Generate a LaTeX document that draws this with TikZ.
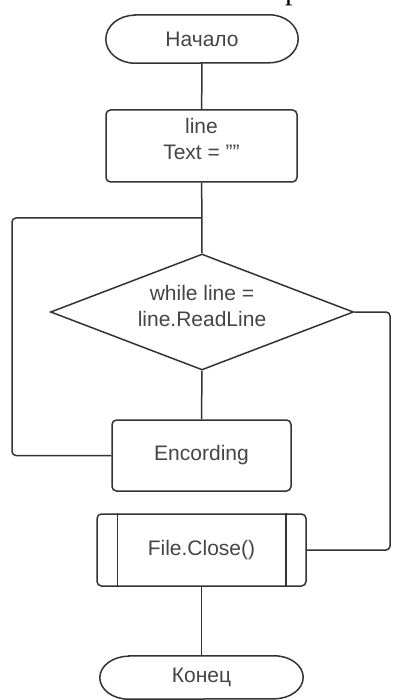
\documentclass[tikz,border=0pt]{standalone}
\usepackage{fontspec}
\setmainfont{Liberation Sans}
\newfontfamily\serifx{Liberation Serif}
\usetikzlibrary{shapes.geometric}
\definecolor{ln}{HTML}{333333}
\definecolor{tx}{HTML}{454545}
\definecolor{brn}{HTML}{4A2C2C}
\newcommand\termoutline[3]{% node name, x radius, y radius
  \draw[ln, line width=1.5pt] ([xshift=#2]#1.north west) -- ([xshift=-#2]#1.north east)
    arc[start angle=90, end angle=-90, x radius=#2, y radius=#3]
    -- ([xshift=#2]#1.south west)
    arc[start angle=270, end angle=90, x radius=#2, y radius=#3] -- cycle;}
\begin{document}
\begin{tikzpicture}[x=1pt,y=-1pt,
  txt/.style={font=\fontsize{21}{26}\selectfont, text=tx, align=center},
  term/.style={txt, rectangle, inner sep=0pt},
  proc/.style={txt, draw=ln, line width=1.5pt, rectangle, rounded corners=4.5pt, inner sep=0pt},
  dec/.style={txt, draw=ln, line width=1.5pt, diamond, aspect=2.6, inner sep=0pt},
  conn/.style={draw=ln, line width=1.5pt, rounded corners=4pt}]
\useasboundingbox[fill=white] (0,0) rectangle (392,700);
\node[font=\serifx\fontsize{30}{30}\selectfont, text=black, inner sep=0pt, anchor=base west] (frag) at (285,-0.5) {р};
\node[term, minimum width=192pt, minimum height=48pt] (start) at (202,39) {Начало};
\termoutline{start}{29pt}{24pt}
\node[proc, minimum width=191pt, minimum height=72pt] (init) at (201.5,146) {line\\Text = ""\\[-11pt]};
\node[dec, minimum width=303pt, minimum height=116pt] (loop) at (202,312) {while line =\\line.ReadLine\\[-13pt]};
\node[proc, minimum width=179pt, minimum height=71pt] (enc) at (201.5,455.5) {Encording};
\node[proc, minimum width=209pt, minimum height=72pt] (close) at (201.5,550) {File.Close()};
\draw[ln, line width=1.5pt] ([xshift=21pt]close.north west) -- ([xshift=21pt]close.south west);
\draw[ln, line width=1.5pt] ([xshift=-21pt]close.north east) -- ([xshift=-21pt]close.south east);
\node[term, minimum width=203pt, minimum height=43pt] (end) at (201.5,677.5) {Конец};
\termoutline{end}{29pt}{21.5pt}
\coordinate (j) at (202,218);
\draw[conn] (start) -- (init);
\draw[conn] (init) -- (loop.north);
\draw[conn] (j) -- (12,218) -- (12,455.5) -- (enc.west);
\draw[conn] (loop.south) -- (enc.north);
\draw[conn] (loop.east) -- (390,312) -- (390,550) -- (close.east);
\draw[conn, draw=brn] (close) -- (end);
\end{tikzpicture}
\end{document}
